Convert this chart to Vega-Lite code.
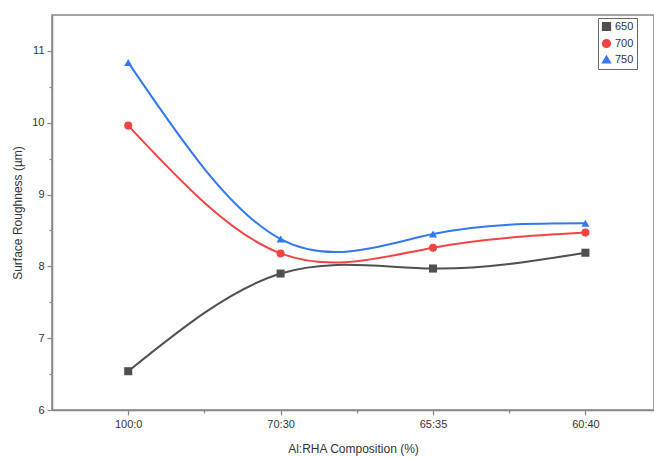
{
  "$schema": "https://vega.github.io/schema/vega-lite/v6.json",
  "width": 602,
  "height": 395,
  "autosize": {"type": "none"},
  "padding": {"left": 52, "top": 15, "right": 0, "bottom": 48},
  "background": "white",
  "data": {
    "values": [
      {"idx": 0, "comp": "100:0", "temp": "650", "r": 6.54},
      {"idx": 1, "comp": "70:30", "temp": "650", "r": 7.9},
      {"idx": 2, "comp": "65:35", "temp": "650", "r": 7.97},
      {"idx": 3, "comp": "60:40", "temp": "650", "r": 8.19},
      {"idx": 0, "comp": "100:0", "temp": "700", "r": 9.96},
      {"idx": 1, "comp": "70:30", "temp": "700", "r": 8.18},
      {"idx": 2, "comp": "65:35", "temp": "700", "r": 8.26},
      {"idx": 3, "comp": "60:40", "temp": "700", "r": 8.47},
      {"idx": 0, "comp": "100:0", "temp": "750", "r": 10.84},
      {"idx": 1, "comp": "70:30", "temp": "750", "r": 8.38},
      {"idx": 2, "comp": "65:35", "temp": "750", "r": 8.45},
      {"idx": 3, "comp": "60:40", "temp": "750", "r": 8.6}
    ]
  },
  "encoding": {
    "x": {
      "field": "idx", "type": "quantitative",
      "scale": {"domain": [-0.5, 3.45], "nice": false, "zero": false},
      "axis": {
        "title": "Al:RHA Composition (%)",
        "values": [0, 0.5, 1, 1.5, 2, 2.5, 3],
        "labelExpr": "datum.value === 0 ? '100:0' : datum.value === 1 ? '70:30' : datum.value === 2 ? '65:35' : datum.value === 3 ? '60:40' : ''",
        "grid": false,
        "tickSize": {"condition": {"test": "datum.value % 1 === 0", "value": 5}, "value": 3},
        "domainColor": "#888", "domainWidth": 1.5,
        "tickColor": "#888", "tickWidth": 1.2,
        "labelFont": "Liberation Sans", "labelFontSize": 11, "labelColor": "#333",
        "labelPadding": 3,
        "titleFont": "Liberation Sans", "titleFontSize": 12, "titleFontWeight": "normal", "titleColor": "#333",
        "titlePadding": 14
      }
    },
    "y": {
      "field": "r", "type": "quantitative",
      "scale": {"domain": [6, 11.5], "nice": false, "zero": false},
      "axis": {
        "title": "Surface Roughness (µm)",
        "values": [6, 6.5, 7, 7.5, 8, 8.5, 9, 9.5, 10, 10.5, 11],
        "labelExpr": "datum.value % 1 === 0 ? format(datum.value, 'd') : ''",
        "grid": false,
        "tickSize": {"condition": {"test": "datum.value % 1 === 0", "value": 5}, "value": 3},
        "domainColor": "#888", "domainWidth": 1.5,
        "tickColor": "#888", "tickWidth": 1.2,
        "labelFont": "Liberation Sans", "labelFontSize": 11, "labelColor": "#333",
        "labelPadding": 3,
        "titleFont": "Liberation Sans", "titleFontSize": 12, "titleFontWeight": "normal", "titleColor": "#333",
        "titlePadding": 7
      }
    },
    "color": {
      "field": "temp", "type": "nominal",
      "scale": {"domain": ["650", "700", "750"], "range": ["#505050", "#f24444", "#3478ee"]},
      "legend": {
        "title": null, "orient": "none", "legendX": 546, "legendY": 3,
        "strokeColor": "#666", "fillColor": "white", "padding": 3,
        "labelFont": "Liberation Sans", "labelFontSize": 11, "labelColor": "#333",
        "rowPadding": 2, "symbolSize": 60, "labelOffset": 3
      }
    }
  },
  "layer": [
    {"mark": {"type": "line", "interpolate": "natural", "strokeWidth": 2}},
    {
      "mark": {"type": "point", "filled": true, "size": 65, "opacity": 1},
      "encoding": {
        "shape": {
          "field": "temp", "type": "nominal",
          "scale": {"domain": ["650", "700", "750"], "range": ["square", "circle", "triangle-up"]},
          "legend": {
            "title": null, "orient": "none", "legendX": 546, "legendY": 3,
            "strokeColor": "#666", "fillColor": "white", "padding": 3,
            "labelFont": "Liberation Sans", "labelFontSize": 11, "labelColor": "#333",
            "rowPadding": 2, "symbolSize": 60, "labelOffset": 3
          }
        }
      }
    }
  ],
  "config": {"view": {"stroke": "#888", "strokeWidth": 1.5}}
}
